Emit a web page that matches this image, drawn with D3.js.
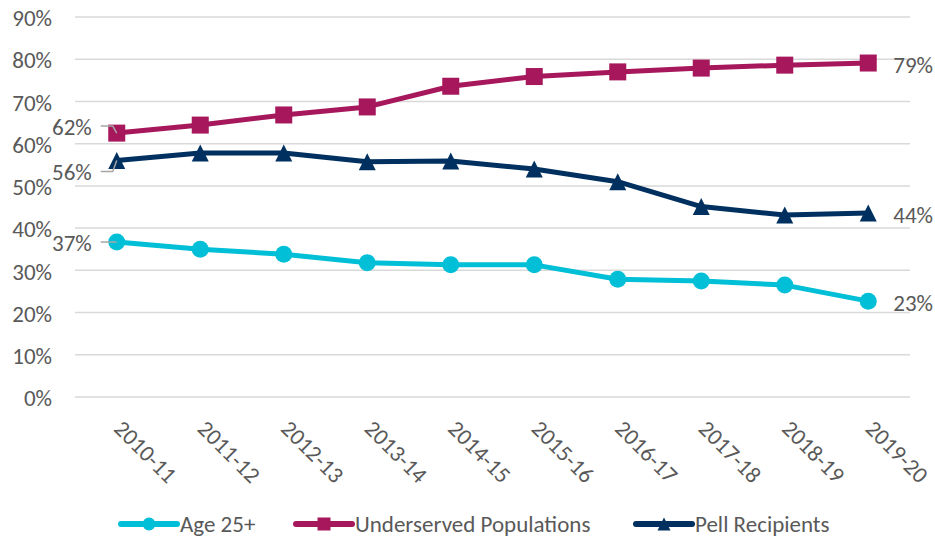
<!DOCTYPE html>
<html>
<head>
<meta charset="utf-8">
<script src="https://cdn.jsdelivr.net/npm/d3@7"></script>
<style>
  body { margin: 0; background: #fff; }
  text { font-family: Carlito, Calibri, Lato, sans-serif; fill: #595959; }
</style>
</head>
<body>
<div id="chart"></div>
<script>
// categories and series
const years = ["2010-11", "2011-12", "2012-13", "2013-14", "2014-15", "2015-16", "2016-17", "2017-18", "2018-19", "2019-20"];
const age25 = [36.7, 35.0, 33.8, 31.8, 31.3, 31.3, 27.9, 27.5, 26.5, 22.7];
const underserved = [62.5, 64.4, 66.8, 68.7, 73.6, 75.9, 77.0, 77.9, 78.6, 79.1];
const pell = [56.0, 57.8, 57.8, 55.7, 55.9, 54.0, 51.0, 45.1, 43.1, 43.6];
const yTicks = [0, 10, 20, 30, 40, 50, 60, 70, 80, 90];

const width = 935, height = 538;
const margin = { top: 17, right: 25, bottom: 141, left: 75 };
const w = width - margin.left - margin.right,
  h = height - margin.top - margin.bottom;
const fontSize = "23px";

const series = [
  { name: "Age 25+", values: age25, color: "#00BFD6", marker: "circle" },
  { name: "Underserved Populations", values: underserved, color: "#A6175B", marker: "square" },
  { name: "Pell Recipients", values: pell, color: "#00305F", marker: "triangle" }
];

const svg = d3.select("#chart").append("svg")
  .attr("width", width)
  .attr("height", height);
const g = svg.append("g")
  .attr("transform", "translate(" + margin.left + "," + margin.top + ")");

const x = d3.scaleBand().domain(years).range([0, w]);
const y = d3.scaleLinear().domain([0, 90]).range([h, 0]);
const cx = d => x(d) + x.bandwidth() / 2;

// gridlines
g.append("g")
  .selectAll("line")
  .data(yTicks)
  .enter().append("line")
  .attr("x1", 0).attr("x2", w)
  .attr("y1", d => y(d)).attr("y2", d => y(d))
  .attr("stroke", "#d9d9d9")
  .attr("stroke-width", 1.5);

// y axis labels
const yAxis = g.append("g")
  .call(d3.axisLeft(y).tickValues(yTicks).tickFormat(d => d + "%").tickSize(0).tickPadding(23));
yAxis.select(".domain").remove();
yAxis.selectAll("text")
  .style("font-size", fontSize)
  .attr("fill", "#595959")
  .attr("dy", "0.38em");

// x axis labels, rotated
const xAxis = g.append("g")
  .attr("transform", "translate(0," + h + ")")
  .call(d3.axisBottom(x).tickSize(0));
xAxis.select(".domain").remove();
xAxis.selectAll("text")
  .style("font-size", fontSize)
  .attr("fill", "#595959")
  .attr("text-anchor", "start")
  .attr("x", 0).attr("y", 0).attr("dy", 0)
  .attr("transform", "translate(-4,33) rotate(45)");

const line = d3.line()
  .x((d, i) => cx(years[i]))
  .y(d => y(d));

function drawMarker(sel, type, color, size) {
  if (type === "circle") {
    sel.append("circle").attr("r", size * 0.5).attr("fill", color);
  } else if (type === "square") {
    sel.append("rect")
      .attr("x", -size * 0.5).attr("y", -size * 0.5)
      .attr("width", size).attr("height", size)
      .attr("fill", color);
  } else {
    const s = size / 2;
    sel.append("path")
      .attr("d", "M0," + (-s) + "L" + s + "," + s + "L" + (-s) + "," + s + "Z")
      .attr("fill", color);
  }
}

series.forEach(s => {
  g.append("path")
    .datum(s.values)
    .attr("fill", "none")
    .attr("stroke", s.color)
    .attr("stroke-width", 5)
    .attr("stroke-linejoin", "round")
    .attr("d", line);

  g.selectAll(null)
    .data(s.values)
    .enter().append("g")
    .attr("transform", (d, i) => "translate(" + cx(years[i]) + "," + y(d) + ")")
    .each(function () { drawMarker(d3.select(this), s.marker, s.color, 17); });
});

// end labels with leader lines on the left
const first = cx(years[0]), last = cx(years[years.length - 1]);
const leftLabels = [
  { v: underserved[0], ty: y(underserved[0]) - 7, text: "62%" },
  { v: pell[0], ty: y(pell[0]) + 11, text: "56%" },
  { v: age25[0], ty: y(age25[0]), text: "37%" }
];
leftLabels.forEach(l => {
  g.append("path")
    .attr("d", "M" + (first - 16) + "," + l.ty + "H" + (first - 4) + "L" + first + "," + y(l.v))
    .attr("fill", "none")
    .attr("stroke", "#a6a6a6")
    .attr("stroke-width", 1.5);
  g.append("text")
    .attr("x", first - 25)
    .attr("y", l.ty)
    .attr("dy", "0.38em")
    .attr("text-anchor", "end")
    .style("font-size", fontSize)
    .text(l.text);
});

const rightLabels = [
  { v: underserved[9], text: "79%" },
  { v: pell[9], text: "44%" },
  { v: age25[9], text: "23%" }
];
rightLabels.forEach(l => {
  g.append("text")
    .attr("x", last + 25)
    .attr("y", y(l.v) + 1)
    .attr("dy", "0.38em")
    .style("font-size", fontSize)
    .text(l.text);
});

// legend
const legendX = [121, 296, 636];
const legend = svg.append("g").attr("transform", "translate(0,524)");
series.forEach((s, i) => {
  const lg = legend.append("g").attr("transform", "translate(" + legendX[i] + ",0)");
  lg.append("line")
    .attr("x1", 0).attr("x2", 56)
    .attr("stroke", s.color)
    .attr("stroke-width", 6)
    .attr("stroke-linecap", "round");
  const m = lg.append("g").attr("transform", "translate(28,0)");
  drawMarker(m, s.marker, s.color, 13);
  lg.append("text")
    .attr("x", 59)
    .attr("y", 0)
    .attr("dy", "0.33em")
    .style("font-size", "23px")
    .text(s.name);
});
</script>
</body>
</html>
